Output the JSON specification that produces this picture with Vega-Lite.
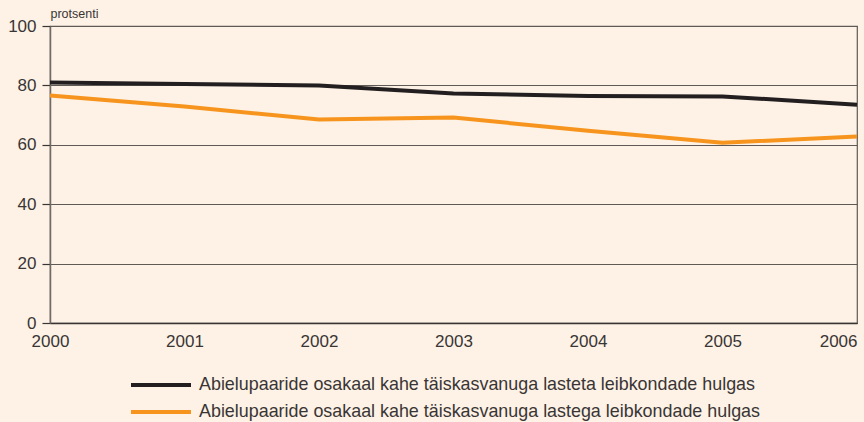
{
  "$schema": "https://vega.github.io/schema/vega-lite/v6.json",
  "width": 807,
  "height": 297,
  "autosize": "none",
  "padding": {"left": 50, "top": 26, "right": 7, "bottom": 99},
  "background": "#fdf2e5",
  "config": {
    "font": "Liberation Sans",
    "view": {"stroke": "#5f5a56", "strokeWidth": 1.2}
  },
  "data": {
    "values": [
      {"year": 2000, "value": 81.0, "series": "Abielupaaride osakaal kahe täiskasvanuga lasteta leibkondade hulgas"},
      {"year": 2001, "value": 80.5, "series": "Abielupaaride osakaal kahe täiskasvanuga lasteta leibkondade hulgas"},
      {"year": 2002, "value": 80.0, "series": "Abielupaaride osakaal kahe täiskasvanuga lasteta leibkondade hulgas"},
      {"year": 2003, "value": 77.3, "series": "Abielupaaride osakaal kahe täiskasvanuga lasteta leibkondade hulgas"},
      {"year": 2004, "value": 76.4, "series": "Abielupaaride osakaal kahe täiskasvanuga lasteta leibkondade hulgas"},
      {"year": 2005, "value": 76.3, "series": "Abielupaaride osakaal kahe täiskasvanuga lasteta leibkondade hulgas"},
      {"year": 2006, "value": 73.5, "series": "Abielupaaride osakaal kahe täiskasvanuga lasteta leibkondade hulgas"},
      {"year": 2000, "value": 76.6, "series": "Abielupaaride osakaal kahe täiskasvanuga lastega leibkondade hulgas"},
      {"year": 2001, "value": 72.9, "series": "Abielupaaride osakaal kahe täiskasvanuga lastega leibkondade hulgas"},
      {"year": 2002, "value": 68.5, "series": "Abielupaaride osakaal kahe täiskasvanuga lastega leibkondade hulgas"},
      {"year": 2003, "value": 69.2, "series": "Abielupaaride osakaal kahe täiskasvanuga lastega leibkondade hulgas"},
      {"year": 2004, "value": 64.7, "series": "Abielupaaride osakaal kahe täiskasvanuga lastega leibkondade hulgas"},
      {"year": 2005, "value": 60.7, "series": "Abielupaaride osakaal kahe täiskasvanuga lastega leibkondade hulgas"},
      {"year": 2006, "value": 62.8, "series": "Abielupaaride osakaal kahe täiskasvanuga lastega leibkondade hulgas"}
    ]
  },
  "mark": {"type": "line", "strokeWidth": 4},
  "encoding": {
    "x": {
      "field": "year",
      "type": "quantitative",
      "scale": {"domain": [2000, 2006], "nice": false, "zero": false},
      "axis": {
        "title": null,
        "values": [2000, 2001, 2002, 2003, 2004, 2005, 2006],
        "format": "d",
        "grid": false,
        "ticks": false,
        "domainColor": "#3a3535",
        "domainWidth": 1.5,
        "labelFontSize": 17,
        "labelColor": "#3a3535",
        "labelPadding": 10,
        "labelAlign": {"expr": "datum.value == 2006 ? 'right' : 'center'"},
        "labelOverlap": false
      }
    },
    "y": {
      "field": "value",
      "type": "quantitative",
      "scale": {"domain": [0, 100], "nice": false},
      "axis": {
        "title": "protsenti",
        "titleAngle": 0,
        "titleAlign": "left",
        "titleBaseline": "alphabetic",
        "titleX": 0,
        "titleY": -9,
        "titleFontSize": 12.5,
        "titleFontWeight": "normal",
        "titleColor": "#3a3535",
        "values": [0, 20, 40, 60, 80, 100],
        "grid": true,
        "gridColor": "#5f5a56",
        "gridWidth": 1.2,
        "domainColor": "#6f6a66",
        "domainWidth": 1.5,
        "tickColor": "#3a3535",
        "tickSize": 8,
        "tickWidth": 1.2,
        "labelFontSize": 17,
        "labelColor": "#3a3535",
        "labelPadding": 6
      }
    },
    "color": {
      "field": "series",
      "type": "nominal",
      "scale": {
        "domain": [
          "Abielupaaride osakaal kahe täiskasvanuga lasteta leibkondade hulgas",
          "Abielupaaride osakaal kahe täiskasvanuga lastega leibkondade hulgas"
        ],
        "range": ["#231f20", "#f7941d"]
      },
      "legend": {
        "title": null,
        "orient": "none",
        "legendX": 99,
        "legendY": 347,
        "symbolType": "M-3,0H3",
        "symbolSize": 400,
        "symbolStrokeWidth": 4,
        "labelFontSize": 17.9,
        "labelColor": "#3a3535",
        "labelOffset": 26,
        "labelLimit": 800,
        "rowPadding": 6
      }
    }
  }
}
